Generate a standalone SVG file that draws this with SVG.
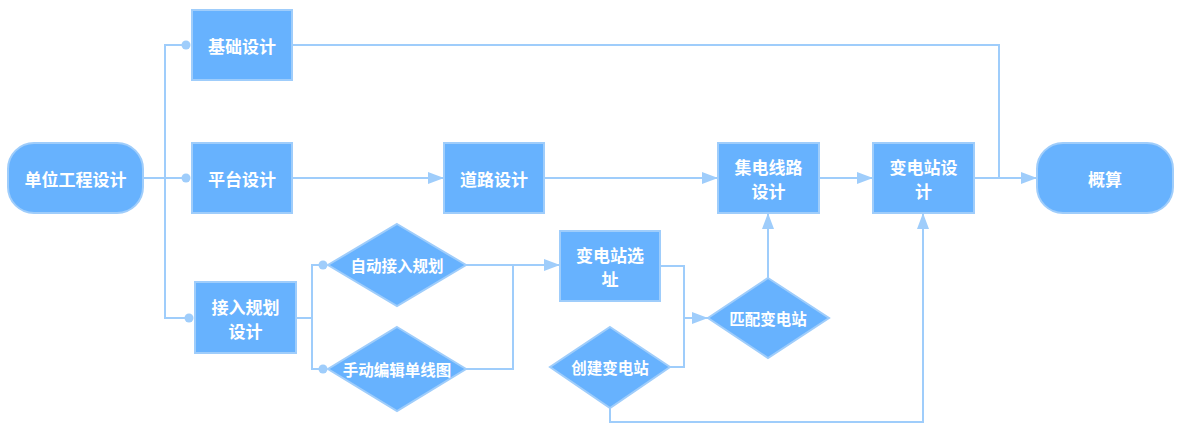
<svg xmlns="http://www.w3.org/2000/svg" width="1180" height="435" viewBox="0 0 1180 435">
<defs>
<style>
.n{fill:#67b2fe;stroke:#9fcdfb;stroke-width:2}
.t{fill:#fff;font-family:"Noto Sans CJK SC","Noto Sans",sans-serif;font-weight:bold;font-size:17px;text-anchor:middle;dominant-baseline:central}
.s{font-size:15.5px}
.c{fill:none;stroke:#9fcdfb;stroke-width:2}
.d{fill:#9fcdfb}
</style>
<marker id="a" viewBox="0 0 16 12" refX="16" refY="6" markerWidth="16" markerHeight="12" markerUnits="userSpaceOnUse" orient="auto">
<path d="M0,0 L16,6 L0,12 Z" fill="#9fcdfb"/>
</marker>
</defs>
<rect width="1180" height="435" fill="#fff"/>
<g id="connectors">
<path class="c" d="M143,178 H186"/>
<path class="c" d="M186,45 H165 V318 H189"/>
<circle class="d" cx="186" cy="45" r="4.5"/>
<circle class="d" cx="186" cy="178" r="4.5"/>
<circle class="d" cx="189" cy="318" r="4.5"/>
<path class="c" d="M292,45 H999 V178"/>
<path class="c" d="M292,178 H444" marker-end="url(#a)"/>
<path class="c" d="M544,178 H718" marker-end="url(#a)"/>
<path class="c" d="M819,178 H873" marker-end="url(#a)"/>
<path class="c" d="M974,178 H1037" marker-end="url(#a)"/>
<path class="c" d="M296,318 H312"/>
<path class="c" d="M323,265 H312 V369 H323"/>
<circle class="d" cx="323" cy="265" r="4.5"/>
<circle class="d" cx="323" cy="369" r="4.5"/>
<path class="c" d="M466,369 H513 V265"/>
<path class="c" d="M466,265 H560" marker-end="url(#a)"/>
<path class="c" d="M660,266 H684 V367 H670"/>
<path class="c" d="M684,318 H708" marker-end="url(#a)"/>
<path class="c" d="M768,278 V213" marker-end="url(#a)"/>
<path class="c" d="M610,408 V422 H923 V213" marker-end="url(#a)"/>
</g>
<g id="n-start"><rect class="n" x="8" y="143" width="135" height="70" rx="26"/><text class="t" x="75.5" y="178">单位工程设计</text></g>
<g id="n-jichu"><rect class="n" x="192" y="10" width="100" height="70"/><text class="t" x="242" y="45">基础设计</text></g>
<g id="n-pingtai"><rect class="n" x="192" y="143" width="100" height="70"/><text class="t" x="242" y="178">平台设计</text></g>
<g id="n-jieru"><rect class="n" x="195" y="282" width="101" height="71"/><text class="t" x="245.5" y="306">接入规划</text><text class="t" x="245.5" y="330">设计</text></g>
<g id="n-auto"><polygon class="n" points="397,224 466,265 397,306 328,265"/><text class="t s" x="397" y="265">自动接入规划</text></g>
<g id="n-manual"><polygon class="n" points="397,327 466,369 397,411 328,369"/><text class="t s" x="397" y="369">手动编辑单线图</text></g>
<g id="n-daolu"><rect class="n" x="444" y="143" width="100" height="70"/><text class="t" x="494" y="178">道路设计</text></g>
<g id="n-xuanzhi"><rect class="n" x="560" y="231" width="100" height="70"/><text class="t" x="610" y="254">变电站选</text><text class="t" x="610" y="278">址</text></g>
<g id="n-chuangjian"><polygon class="n" points="610,327 670,367 610,408 550,367"/><text class="t s" x="610" y="367">创建变电站</text></g>
<g id="n-pipei"><polygon class="n" points="768,278 829,318 768,358 708,318"/><text class="t s" x="768" y="318">匹配变电站</text></g>
<g id="n-jidian"><rect class="n" x="718" y="143" width="101" height="70"/><text class="t" x="768.5" y="166">集电线路</text><text class="t" x="768.5" y="190">设计</text></g>
<g id="n-biandian"><rect class="n" x="873" y="143" width="101" height="70"/><text class="t" x="923.5" y="166">变电站设</text><text class="t" x="923.5" y="190">计</text></g>
<g id="n-gaisuan"><rect class="n" x="1037" y="143" width="136" height="70" rx="26"/><text class="t" x="1105" y="178">概算</text></g>
</svg>
